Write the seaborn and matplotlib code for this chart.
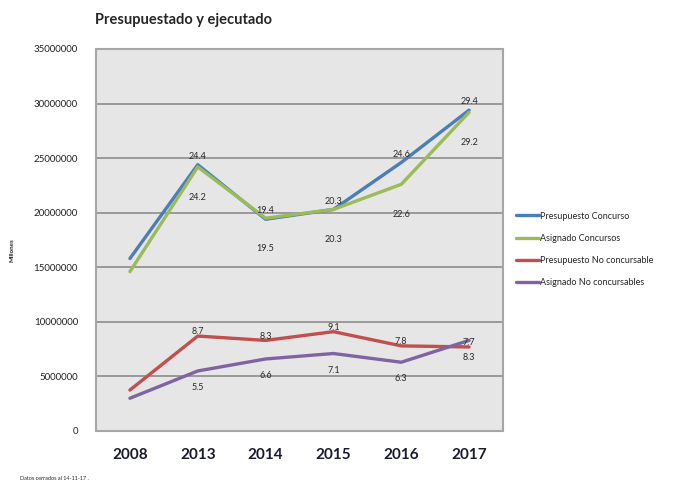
import matplotlib
matplotlib.use("Agg")
import matplotlib.pyplot as plt
import numpy as np
import pandas as pd
import seaborn as sns

anios = ["2008", "2013", "2014", "2015", "2016", "2017"]
series = ["Presupuesto Concurso", "Asignado Concursos",
          "Presupuesto No concursable", "Asignado No concursables"]

presupuesto_concurso = [15.8, 24.4, 19.4, 20.3, 24.6, 29.4]
asignado_concursos = [14.6, 24.2, 19.5, 20.3, 22.6, 29.2]
presupuesto_no_conc = [3.75, 8.7, 8.3, 9.1, 7.8, 7.7]
asignado_no_conc = [3.0, 5.5, 6.6, 7.1, 6.3, 8.3]

# labels shown on chart (2008 has none)
etiquetas = [
    ["", "24.4", "19.4", "20.3", "24.6", "29.4"],
    ["", "24.2", "19.5", "20.3", "22.6", "29.2"],
    ["", "8.7", "8.3", "9.1", "7.8", "7.7"],
    ["", "5.5", "6.6", "7.1", "6.3", "8.3"],
]

colores = ["#4a7ebb", "#9bbb59", "#c0504d", "#8064a2"]
offsets = [6, -22, 3, -12]  # points

valores = [presupuesto_concurso, asignado_concursos, presupuesto_no_conc, asignado_no_conc]
rows = []
for s, vals in zip(series, valores):
    for a, v in zip(anios, vals):
        rows.append({"anio": a, "valor": v * 1e6, "serie": s})
df = pd.DataFrame(rows)

sns.set_style("white")
plt.rcParams["font.family"] = ["Lato", "DejaVu Sans"]

fig = plt.figure(figsize=(6.88, 4.83), dpi=100)
ax = fig.add_axes([96 / 688, 1 - 431 / 483, 407 / 688, 382 / 483])
ax.set_facecolor("#e6e6e6")

sns.lineplot(data=df, x="anio", y="valor", hue="serie", palette=colores,
             sort=False, linewidth=2.4, ax=ax)

for i, vals in enumerate(valores):
    for j, v in enumerate(vals):
        if etiquetas[i][j]:
            ax.annotate(etiquetas[i][j], (j, v * 1e6), xytext=(0, offsets[i]),
                        textcoords="offset points", ha="center", va="center",
                        fontsize=6.5, color="#2a2a2a")

ax.set_xlim(-0.5, 5.5)
ax.set_ylim(0, 35000000)
ax.set_yticks(np.arange(0, 35000001, 5000000))
ax.set_yticklabels([str(int(t)) for t in np.arange(0, 35000001, 5000000)], fontsize=7, color="#222222")
ax.tick_params(axis="y", length=0, pad=13)
ax.tick_params(axis="x", length=0, pad=12)
for lab in ax.get_xticklabels():
    lab.set_fontweight("bold")
    lab.set_fontsize(11)
    lab.set_color("#1a1a2e")
ax.yaxis.grid(True, color="#8c8c8c", linewidth=1.2)
ax.set_axisbelow(True)
for sp in ax.spines.values():
    sp.set_color("#a6a6a6")
    sp.set_linewidth(1.5)
ax.set_xlabel("")
ax.set_ylabel("")

handles, labels = ax.get_legend_handles_labels()
ax.get_legend().remove()
fig.legend(handles, labels, loc="upper left", bbox_to_anchor=(512 / 688, 1 - 208 / 483),
           frameon=False, fontsize=6.5, labelspacing=1.45, handlelength=2.6,
           handletextpad=0.15, borderaxespad=0)

fig.text(95 / 688, 1 - 20 / 483, "Presupuestado y ejecutado", fontsize=10.5,
         fontweight="bold", va="center", ha="left")
fig.text(12 / 688, 1 - 250 / 483, "Millones", fontsize=4.5, fontweight="bold",
         rotation=90, va="center", ha="center")
fig.text(20 / 688, 1 - 479 / 483, "Datos cerrados al 14-11-17 .", fontsize=4,
         va="center", ha="left")

fig.savefig("out.png", dpi=100)
